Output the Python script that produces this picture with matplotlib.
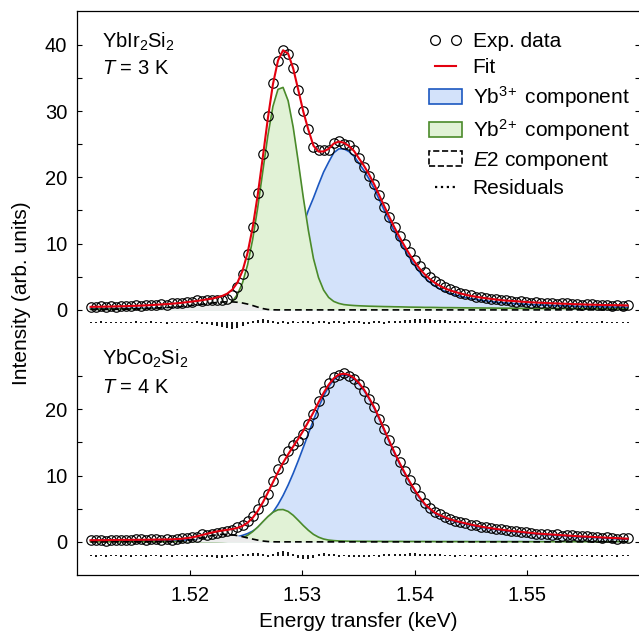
import numpy as np
import matplotlib
matplotlib.use('Agg')
import matplotlib.pyplot as plt
from matplotlib.lines import Line2D
from matplotlib.patches import Patch

plt.rcParams['font.family'] = ['Liberation Sans', 'DejaVu Sans']
plt.rcParams['mathtext.fontset'] = 'custom'
plt.rcParams['mathtext.rm'] = 'Liberation Sans'
plt.rcParams['mathtext.it'] = 'Liberation Sans:italic'
plt.rcParams['mathtext.default'] = 'regular'

# energy transfer grid (keV), 107 channels
energy = np.linspace(1.5112, 1.5589, 107)

# ---- YbIr2Si2, T = 3 K (upper curves) ----
ir_bg = 0.12
ir_yb3 = [0.19, 0.19, 0.19, 0.20, 0.20, 0.20, 0.21, 0.21, 0.22, 0.22,
          0.23, 0.23, 0.24, 0.24, 0.25, 0.25, 0.26, 0.27, 0.27, 0.28,
          0.29, 0.29, 0.30, 0.32, 0.33, 0.35, 0.37, 0.40, 0.45, 0.53,
          0.64, 0.80, 1.03, 1.36, 1.81, 2.42, 3.21, 4.23, 5.49, 6.99,
          8.75, 10.71, 12.85, 15.06, 16.90, 18.90, 20.80, 22.30, 23.70, 24.30,
          24.30, 23.90, 23.20, 22.10, 21.00, 19.73, 18.26, 16.63, 14.98, 13.37,
          11.83, 10.39, 9.05, 7.80, 6.67, 5.66, 4.82, 4.13, 3.58, 3.14,
          2.78, 2.47, 2.26, 2.04, 1.87, 1.70, 1.58, 1.46, 1.37, 1.27,
          1.18, 1.10, 1.03, 0.98, 0.94, 0.89, 0.84, 0.79, 0.76, 0.73,
          0.70, 0.66, 0.64, 0.61, 0.59, 0.56, 0.54, 0.52, 0.49, 0.48,
          0.47, 0.44, 0.43, 0.42, 0.41, 0.40, 0.38]
ir_yb2 = [0.09, 0.10, 0.10, 0.10, 0.10, 0.11, 0.11, 0.11, 0.12, 0.12,
          0.12, 0.13, 0.13, 0.14, 0.14, 0.15, 0.15, 0.16, 0.16, 0.17,
          0.17, 0.18, 0.19, 0.20, 0.20, 0.30, 0.43, 0.72, 1.29, 2.33,
          4.09, 6.81, 10.62, 15.44, 20.90, 26.29, 30.71, 33.28, 33.57, 31.56,
          27.56, 22.37, 16.93, 11.98, 7.75, 4.87, 2.99, 1.88, 1.28, 0.98,
          0.80, 0.72, 0.66, 0.62, 0.59, 0.56, 0.54, 0.52, 0.50, 0.49,
          0.47, 0.46, 0.44, 0.42, 0.41, 0.40, 0.38, 0.38, 0.37, 0.35,
          0.34, 0.34, 0.33, 0.32, 0.31, 0.30, 0.30, 0.29, 0.28, 0.28,
          0.27, 0.26, 0.26, 0.26, 0.25, 0.24, 0.24, 0.23, 0.23, 0.22,
          0.22, 0.22, 0.22, 0.21, 0.21, 0.20, 0.20, 0.20, 0.19, 0.19,
          0.18, 0.18, 0.18, 0.18, 0.18, 0.18, 0.17]
ir_e2 = [0.06, 0.07, 0.07, 0.08, 0.09, 0.10, 0.11, 0.12, 0.14, 0.16,
         0.18, 0.21, 0.24, 0.28, 0.32, 0.36, 0.40, 0.45, 0.52, 0.60,
         0.68, 0.76, 0.85, 0.95, 1.05, 1.13, 1.19, 1.22, 1.21, 1.15,
         1.04, 0.88, 0.66, 0.42, 0.20, 0.06, 0.01] + [0.0] * 70
ir_res = [0.05, -0.06, 0.08, -0.05, 0.06, -0.07, 0.05, 0.06, -0.05, 0.07,
          -0.06, 0.05, 0.08, -0.06, 0.05, -0.08, 0.06, 0.05, -0.07, 0.06,
          -0.05, 0.08, -0.10, -0.15, -0.25, -0.40, -0.60, -0.80, -0.85, -0.70,
          -0.45, -0.20, 0.10, 0.30, 0.45, 0.35, 0.15, -0.10, 0.08, -0.10,
          0.10, -0.06, 0.12, 0.15, -0.12, 0.18, 0.20, -0.15, 0.12, 0.10,
          -0.12, 0.10, 0.15, 0.12, -0.10, -0.15, 0.10, 0.08, -0.12, 0.10,
          0.15, 0.20, 0.30, 0.35, 0.40, 0.45, 0.42, 0.38, 0.30, 0.28,
          0.25, 0.20, 0.15, 0.12, 0.10, 0.08, -0.06, 0.07, 0.05, -0.06,
          0.06, -0.05, 0.07, 0.05, -0.06, 0.05, 0.06, -0.05, 0.07, -0.06,
          0.05, 0.06, -0.07, 0.05, 0.06, -0.05, 0.07, -0.06, 0.05, 0.06,
          -0.05, 0.07, 0.05, -0.06, 0.06, -0.05, 0.06]

# ---- YbCo2Si2, T = 4 K (lower curves) ----
co_bg = 0.05
co_yb3 = [0.19, 0.20, 0.20, 0.20, 0.21, 0.21, 0.22, 0.22, 0.22, 0.23,
          0.23, 0.24, 0.24, 0.25, 0.26, 0.26, 0.27, 0.28, 0.28, 0.29,
          0.30, 0.30, 0.33, 0.35, 0.37, 0.41, 0.46, 0.53, 0.64, 0.78,
          0.98, 1.25, 1.62, 2.10, 2.72, 3.50, 4.46, 5.62, 6.99, 8.57,
          10.33, 12.25, 14.27, 16.34, 18.37, 20.29, 21.99, 23.39, 24.43, 25.05,
          25.20, 25.05, 24.57, 23.81, 22.81, 21.55, 20.16, 18.52, 16.76, 15.04,
          13.36, 11.79, 10.33, 8.95, 7.69, 6.55, 5.59, 4.89, 4.28, 3.91,
          3.58, 3.30, 3.07, 2.87, 2.70, 2.52, 2.37, 2.22, 2.09, 1.97,
          1.86, 1.76, 1.66, 1.56, 1.49, 1.41, 1.34, 1.26, 1.18, 1.13,
          1.08, 1.03, 0.98, 0.93, 0.88, 0.83, 0.78, 0.73, 0.71, 0.66,
          0.63, 0.58, 0.55, 0.50, 0.48, 0.43, 0.40]
co_yb2 = [0.01, 0.01, 0.01, 0.01, 0.01, 0.02, 0.02, 0.02, 0.02, 0.02,
          0.02, 0.02, 0.02, 0.02, 0.02, 0.02, 0.02, 0.02, 0.02, 0.02,
          0.02, 0.03, 0.03, 0.03, 0.03, 0.04, 0.06, 0.10, 0.19, 0.34,
          0.59, 0.99, 1.54, 2.24, 3.04, 3.82, 4.47, 4.84, 4.88, 4.59,
          4.01, 3.25, 2.46, 1.74, 1.13, 0.71, 0.43, 0.27, 0.19, 0.14,
          0.12, 0.10, 0.10, 0.09, 0.09, 0.08, 0.08, 0.08, 0.07, 0.07,
          0.07, 0.07, 0.06, 0.06, 0.06, 0.06, 0.06, 0.06, 0.05, 0.05,
          0.05, 0.05, 0.05, 0.05, 0.05, 0.04, 0.04, 0.04, 0.04, 0.04,
          0.04, 0.04, 0.04, 0.04, 0.04, 0.04, 0.03, 0.03, 0.03, 0.03,
          0.03, 0.03, 0.03, 0.03, 0.03, 0.03, 0.03, 0.03, 0.03, 0.03,
          0.03, 0.03, 0.03, 0.03, 0.03, 0.03, 0.03]
co_e2 = [0.00, 0.00, 0.00, 0.00, 0.01, 0.01, 0.01, 0.01, 0.01, 0.01,
         0.01, 0.01, 0.02, 0.02, 0.02, 0.03, 0.04, 0.07, 0.12, 0.20,
         0.31, 0.45, 0.62, 0.80, 0.96, 1.08, 1.14, 1.13, 1.06, 0.94,
         0.78, 0.60, 0.42, 0.26, 0.13, 0.05, 0.01] + [0.0] * 70
co_res = [0.05, -0.05, 0.06, -0.06, 0.05, 0.05, -0.06, 0.05, -0.05, 0.06,
          0.05, -0.06, 0.05, 0.06, -0.05, 0.05, -0.06, 0.05, 0.06, -0.05,
          0.06, -0.08, 0.10, -0.12, -0.15, -0.18, -0.20, -0.15, -0.10, 0.08,
          0.12, 0.20, 0.30, 0.35, 0.25, -0.15, 0.20, 0.45, 0.60, 0.50,
          0.20, -0.30, -0.45, -0.40, -0.20, 0.25, 0.30, 0.20, 0.15, -0.12,
          0.10, -0.10, -0.12, -0.15, -0.12, -0.10, 0.10, -0.08, 0.12, 0.15,
          0.18, 0.20, 0.25, 0.28, 0.30, 0.25, 0.22, 0.18, 0.15, 0.12,
          0.10, 0.08, -0.06, 0.07, 0.05, -0.06, 0.06, -0.05, 0.07, 0.05,
          -0.06, 0.05, 0.06, -0.05, 0.07, -0.06, 0.05, 0.06, -0.07, 0.05,
          0.06, -0.05, 0.07, -0.06, 0.05, 0.06, -0.05, 0.07, 0.05, -0.06,
          0.06, -0.05, 0.07, 0.05, -0.06, 0.05, 0.06]

red = '#e3000f'
blue = '#1b57c0'
blue_fill = '#d3e2fa'
green = '#4a8a2a'
green_fill = '#e1f2d6'
grey_fill = '#ececec'


def draw(ax, base, yb3, yb2, e2, bg, res, res_base):
    yb3 = np.array(yb3)
    yb2 = np.array(yb2)
    e2 = np.array(e2)
    res = np.array(res)
    fit = bg + yb3 + yb2 + e2
    exp_data = fit + res
    ax.fill_between(energy, base, base + yb3, color=blue_fill, lw=0, zorder=1)
    ax.plot(energy, base + yb3, color=blue, lw=1.2, zorder=2)
    ax.fill_between(energy, base, base + yb2, color=green_fill, lw=0, zorder=3)
    ax.plot(energy, base + yb2, color=green, lw=1.2, zorder=4)
    ax.fill_between(energy, base, base + e2, color=grey_fill, lw=0, zorder=5)
    ax.plot(energy, base + e2, color='k', ls=(0, (4, 2.5)), lw=1.2, zorder=6)
    ax.plot(energy, base + exp_data, ls='none', marker='o', ms=6.8,
            mfc='none', mec='k', mew=0.85, zorder=7)
    ax.plot(energy, base + fit, color=red, lw=1.5, zorder=8)
    ax.vlines(energy, res_base + np.minimum(res, 0) - 0.08,
              res_base + np.maximum(res, 0) + 0.08, color='k', lw=1.3, zorder=6)


fig = plt.figure(figsize=(6.39, 6.33), dpi=100)
ax = fig.add_axes([77 / 639, 58 / 633, 563 / 639, 564 / 633])

draw(ax, 0.0, ir_yb3, ir_yb2, ir_e2, ir_bg, ir_res, -1.9)
draw(ax, -35.0, co_yb3, co_yb2, co_e2, co_bg, co_res, -37.1)

ax.set_xlim(1.510, 1.560)
ax.set_ylim(-40.0, 45.1)

ax.set_xticks([1.52, 1.53, 1.54, 1.55])
ax.set_xticklabels(['1.52', '1.53', '1.54', '1.55'])
ax.set_yticks([0, 10, 20, 30, 40, -35, -25, -15])
ax.set_yticklabels(['0', '10', '20', '30', '40', '0', '10', '20'])
ax.set_yticks([5, 15, 25, 35, -30, -20, -10], minor=True)
ax.tick_params(axis='both', which='both', direction='in', length=3.6,
               width=0.8, labelsize=14.5)
ax.tick_params(axis='y', which='both', right=True, pad=7)
ax.tick_params(axis='x', pad=8)
for s in ax.spines.values():
    s.set_linewidth(0.9)

ax.set_xlabel('Energy transfer (keV)', fontsize=15, labelpad=5)
ax.set_ylabel('Intensity (arb. units)', fontsize=15)
ax.yaxis.set_label_coords(-0.082, 0.5)

ax.text(0.044, 0.935, r'YbIr$_2$Si$_2$', transform=ax.transAxes, fontsize=14.5)
ax.text(0.044, 0.888, r'$\mathit{T}$ = 3 K', transform=ax.transAxes, fontsize=14.5)
ax.text(0.044, 0.372, r'YbCo$_2$Si$_2$', transform=ax.transAxes, fontsize=14.5)
ax.text(0.044, 0.323, r'$\mathit{T}$ = 4 K', transform=ax.transAxes, fontsize=14.5)

handles = [
    Line2D([], [], ls='none', marker='o', ms=7, mfc='none', mec='k', mew=0.9),
    Line2D([], [], color=red, lw=1.5),
    Patch(facecolor=blue_fill, edgecolor=blue, lw=1.2),
    Patch(facecolor=green_fill, edgecolor=green, lw=1.2),
    Patch(facecolor='white', edgecolor='k', ls='--', lw=1.2),
    Line2D([], [], color='k', ls=':', lw=1.6),
]
labels = ['Exp. data', 'Fit', r'Yb$^{3\!+}$ component', r'Yb$^{2\!+}$ component',
          r'$\mathit{E}$2 component', 'Residuals']
ax.legend(handles, labels, loc='upper left', bbox_to_anchor=(0.625, 0.963),
          frameon=False, fontsize=15, numpoints=2, handlelength=1.6,
          handletextpad=0.5, labelspacing=0.34, borderpad=0, borderaxespad=0)

fig.savefig('out.png', dpi=100)
